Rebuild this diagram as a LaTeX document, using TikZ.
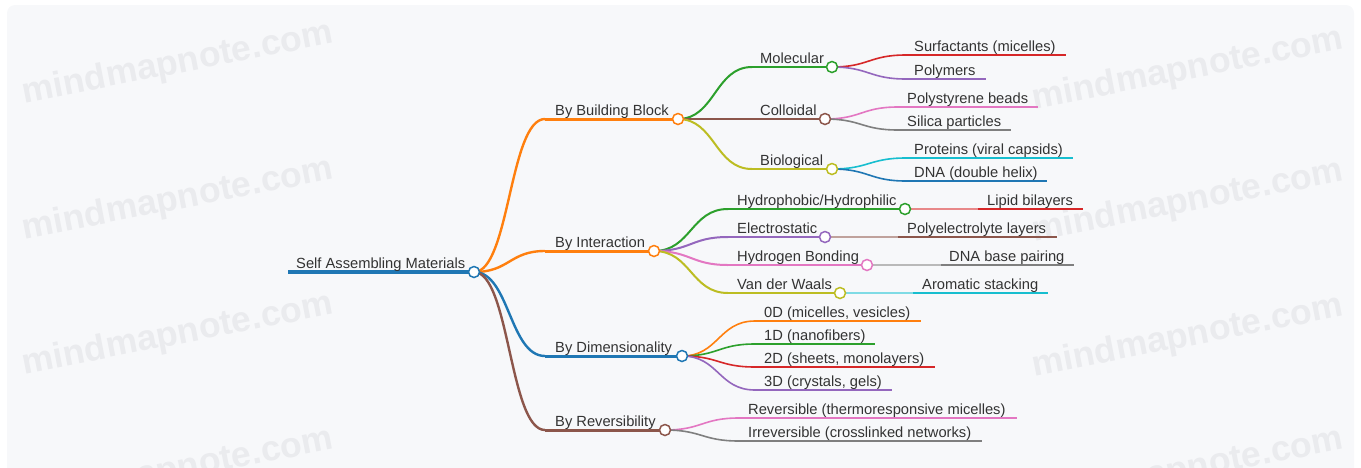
\documentclass[tikz,border=0pt]{standalone}
\usepackage{fontspec}
\setmainfont{Liberation Sans}
\usetikzlibrary{calc}
\definecolor{cBlue}{HTML}{1F77B4}
\definecolor{cOrange}{HTML}{FF7F0E}
\definecolor{cGreen}{HTML}{2CA02C}
\definecolor{cRed}{HTML}{D62728}
\definecolor{cPurple}{HTML}{9467BD}
\definecolor{cBrown}{HTML}{8C564B}
\definecolor{cPink}{HTML}{E377C2}
\definecolor{cGray}{HTML}{7F7F7F}
\definecolor{cOlive}{HTML}{BCBD22}
\definecolor{cCyan}{HTML}{17BECF}
\definecolor{txt}{HTML}{333333}
\definecolor{bgc}{HTML}{F7F8FA}
\definecolor{wmc}{HTML}{EAEBEE}
\newcommand\mmconn[3]{%
  \draw[#1] let \p1=(#2), \p2=(#3) in (\p1) .. controls ({0.5*\x1+0.5*\x2},{\y1}) and ({0.5*\x1+0.5*\x2},{\y2}) .. (\p2);}
\tikzset{
  lbl/.style={anchor=base west, inner sep=0pt, text=txt, font=\fontsize{14.7}{17}\selectfont},
  dot/.style={circle, draw=#1, fill=white, line width=1.5pt, minimum size=11pt, inner sep=0pt},
  cA/.style={draw=#1, line width=2.4pt},
  cB/.style={draw=#1, line width=2pt},
  cC/.style={draw=#1, line width=1.6pt},
  cP/.style={draw=#1!55!white, line width=1.6pt},
  ulA/.style={draw=#1, line width=3pt},
  ulB/.style={draw=#1, line width=2.4pt},
  ulC/.style={draw=#1, line width=2pt},
  wm/.style={text=wmc, font=\fontsize{35.5}{40}\selectfont\bfseries, rotate=11, inner sep=0pt}
}
\begin{document}
\begin{tikzpicture}[x=1pt,y=-1pt]
\useasboundingbox (0,0) rectangle (1361,467);
\clip (0,0) rectangle (1361,467);
\fill[bgc, rounded corners=8pt] (7,5) rectangle (1354,480);
% watermarks
\node[wm] (w1) at (178,64) {mindmapnote.com};
\node[wm] (w2) at (178,200) {mindmapnote.com};
\node[wm] (w3) at (178,335) {mindmapnote.com};
\node[wm] (w4) at (178,470) {mindmapnote.com};
\node[wm] (w5) at (1188,70) {mindmapnote.com};
\node[wm] (w6) at (1188,202) {mindmapnote.com};
\node[wm] (w7) at (1188,337) {mindmapnote.com};
\node[wm] (w8) at (1188,470) {mindmapnote.com};
% coordinates
\coordinate (rootS) at (288,272); \coordinate (root) at (474,272);
\coordinate (bbbS) at (545,119); \coordinate (bbb) at (678,119);
\coordinate (biS) at (545,251); \coordinate (bi) at (654,251);
\coordinate (bdS) at (545,356); \coordinate (bd) at (682,356);
\coordinate (brS) at (545,430); \coordinate (br) at (665,430);
\coordinate (molS) at (752,67); \coordinate (mol) at (832,67);
\coordinate (colS) at (752,119); \coordinate (col) at (825,119);
\coordinate (bioS) at (752,169); \coordinate (bio) at (832,169);
\coordinate (surfS) at (906,55); \coordinate (surfE) at (1066,55);
\coordinate (polyS) at (906,79); \coordinate (polyE) at (986,79);
\coordinate (psS) at (898,107); \coordinate (psE) at (1038,107);
\coordinate (silS) at (898,130); \coordinate (silE) at (1011,130);
\coordinate (protS) at (906,158); \coordinate (protE) at (1073,158);
\coordinate (dnaS) at (906,181); \coordinate (dnaE) at (1047,181);
\coordinate (hydS) at (728,209); \coordinate (hyd) at (905,209);
\coordinate (eleS) at (728,237); \coordinate (ele) at (825,237);
\coordinate (hbS) at (728,265); \coordinate (hb) at (867,265);
\coordinate (vdwS) at (728,293); \coordinate (vdw) at (840,293);
\coordinate (lipS) at (978,209); \coordinate (lipE) at (1083,209);
\coordinate (peS) at (898,237); \coordinate (peE) at (1057,237);
\coordinate (dbpS) at (941,265); \coordinate (dbpE) at (1074,265);
\coordinate (arS) at (913,293); \coordinate (arE) at (1048,293);
\coordinate (d0S) at (755,321); \coordinate (d0E) at (921,321);
\coordinate (d1S) at (755,344); \coordinate (d1E) at (875,344);
\coordinate (d2S) at (755,367); \coordinate (d2E) at (935,367);
\coordinate (d3S) at (755,390); \coordinate (d3E) at (892,390);
\coordinate (revS) at (739,418); \coordinate (revE) at (1017,418);
\coordinate (irrS) at (739,441); \coordinate (irrE) at (982,441);
% connectors
\mmconn{cA=cOrange}{root}{bbbS}
\mmconn{cA=cOrange}{root}{biS}
\mmconn{cA=cBlue}{root}{bdS}
\mmconn{cA=cBrown}{root}{brS}
\mmconn{cB=cGreen}{bbb}{molS}
\mmconn{cB=cBrown}{bbb}{colS}
\mmconn{cB=cOlive}{bbb}{bioS}
\mmconn{cC=cRed}{mol}{surfS}
\mmconn{cC=cPurple}{mol}{polyS}
\mmconn{cC=cPink}{col}{psS}
\mmconn{cC=cGray}{col}{silS}
\mmconn{cC=cCyan}{bio}{protS}
\mmconn{cC=cBlue}{bio}{dnaS}
\mmconn{cB=cGreen}{bi}{hydS}
\mmconn{cB=cPurple}{bi}{eleS}
\mmconn{cB=cPink}{bi}{hbS}
\mmconn{cB=cOlive}{bi}{vdwS}
\draw[cP=cRed] (hyd) -- (lipS);
\draw[cP=cBrown] (ele) -- (peS);
\draw[cP=cGray] (hb) -- (dbpS);
\draw[cP=cCyan] (vdw) -- (arS);
\mmconn{cC=cOrange}{bd}{d0S}
\mmconn{cC=cGreen}{bd}{d1S}
\mmconn{cC=cRed}{bd}{d2S}
\mmconn{cC=cPurple}{bd}{d3S}
\mmconn{cC=cPink}{br}{revS}
\mmconn{cC=cGray}{br}{irrS}
% underlines
\draw[draw=cBlue, line width=4.5pt] (rootS) -- (root);
\draw[ulA=cOrange] (bbbS) -- (bbb);
\draw[ulA=cOrange] (biS) -- (bi);
\draw[ulA=cBlue] (bdS) -- (bd);
\draw[ulA=cBrown] (brS) -- (br);
\draw[ulB=cGreen] (molS) -- (mol);
\draw[ulB=cBrown] (colS) -- (col);
\draw[ulB=cOlive] (bioS) -- (bio);
\draw[ulB=cGreen] (hydS) -- (hyd);
\draw[ulB=cPurple] (eleS) -- (ele);
\draw[ulB=cPink] (hbS) -- (hb);
\draw[ulB=cOlive] (vdwS) -- (vdw);
\draw[ulC=cRed] (surfS) -- (surfE);
\draw[ulC=cPurple] (polyS) -- (polyE);
\draw[ulC=cPink] (psS) -- (psE);
\draw[ulC=cGray] (silS) -- (silE);
\draw[ulC=cCyan] (protS) -- (protE);
\draw[ulC=cBlue] (dnaS) -- (dnaE);
\draw[ulC=cRed] (lipS) -- (lipE);
\draw[ulC=cBrown] (peS) -- (peE);
\draw[ulC=cGray] (dbpS) -- (dbpE);
\draw[ulC=cCyan] (arS) -- (arE);
\draw[ulC=cOrange] (d0S) -- (d0E);
\draw[ulC=cGreen] (d1S) -- (d1E);
\draw[ulC=cRed] (d2S) -- (d2E);
\draw[ulC=cPurple] (d3S) -- (d3E);
\draw[ulC=cPink] (revS) -- (revE);
\draw[ulC=cGray] (irrS) -- (irrE);
% circles
\node[dot=cBlue] (rootC) at (root) {};
\node[dot=cOrange] (bbbC) at (bbb) {};
\node[dot=cOrange] (biC) at (bi) {};
\node[dot=cBlue] (bdC) at (bd) {};
\node[dot=cBrown] (brC) at (br) {};
\node[dot=cGreen] (molC) at (mol) {};
\node[dot=cBrown] (colC) at (col) {};
\node[dot=cOlive] (bioC) at (bio) {};
\node[dot=cGreen] (hydC) at (hyd) {};
\node[dot=cPurple] (eleC) at (ele) {};
\node[dot=cPink] (hbC) at (hb) {};
\node[dot=cOlive] (vdwC) at (vdw) {};
% labels
\node[lbl] (tRoot) at ($(rootS)+(8,-4)$) {Self Assembling Materials};
\node[lbl] (tbbb) at ($(bbbS)+(10,-4)$) {By Building Block};
\node[lbl] (tbi) at ($(biS)+(10,-4)$) {By Interaction};
\node[lbl] (tbd) at ($(bdS)+(10,-4)$) {By Dimensionality};
\node[lbl] (tbr) at ($(brS)+(10,-4)$) {By Reversibility};
\node[lbl] (tmol) at ($(molS)+(8,-4)$) {Molecular};
\node[lbl] (tcol) at ($(colS)+(8,-4)$) {Colloidal};
\node[lbl] (tbio) at ($(bioS)+(8,-4)$) {Biological};
\node[lbl] (tsurf) at ($(surfS)+(8,-4)$) {Surfactants (micelles)};
\node[lbl] (tpoly) at ($(polyS)+(8,-4)$) {Polymers};
\node[lbl] (tps) at ($(psS)+(9,-4)$) {Polystyrene beads};
\node[lbl] (tsil) at ($(silS)+(9,-4)$) {Silica particles};
\node[lbl] (tprot) at ($(protS)+(8,-4)$) {Proteins (viral capsids)};
\node[lbl] (tdna) at ($(dnaS)+(8,-4)$) {DNA (double helix)};
\node[lbl] (thyd) at ($(hydS)+(9,-4)$) {Hydrophobic/Hydrophilic};
\node[lbl] (tele) at ($(eleS)+(9,-4)$) {Electrostatic};
\node[lbl] (thb) at ($(hbS)+(9,-4)$) {Hydrogen Bonding};
\node[lbl] (tvdw) at ($(vdwS)+(9,-4)$) {Van der Waals};
\node[lbl] (tlip) at ($(lipS)+(9,-4)$) {Lipid bilayers};
\node[lbl] (tpe) at ($(peS)+(9,-4)$) {Polyelectrolyte layers};
\node[lbl] (tdbp) at ($(dbpS)+(8,-4)$) {DNA base pairing};
\node[lbl] (tar) at ($(arS)+(9,-4)$) {Aromatic stacking};
\node[lbl] (td0) at ($(d0S)+(9,-4)$) {0D (micelles, vesicles)};
\node[lbl] (td1) at ($(d1S)+(9,-4)$) {1D (nanofibers)};
\node[lbl] (td2) at ($(d2S)+(9,-4)$) {2D (sheets, monolayers)};
\node[lbl] (td3) at ($(d3S)+(9,-4)$) {3D (crystals, gels)};
\node[lbl] (trev) at ($(revS)+(9,-4)$) {Reversible (thermoresponsive micelles)};
\node[lbl] (tirr) at ($(irrS)+(9,-4)$) {Irreversible (crosslinked networks)};
\end{tikzpicture}
\end{document}
